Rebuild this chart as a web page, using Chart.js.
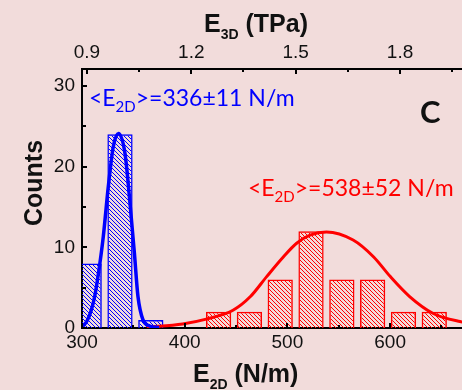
<!DOCTYPE html>
<html>
<head>
<meta charset="utf-8">
<script src="https://cdn.jsdelivr.net/npm/chart.js@4.4.0/dist/chart.umd.min.js"></script>
<style>
  html, body { margin: 0; padding: 0; background: #f2dcdb; }
  #wrap { width: 462px; height: 390px; }
</style>
</head>
<body>
<div id="wrap"><canvas id="hist" width="462" height="390"></canvas></div>
<script>
// histogram bins (bin centre, N/m) and counts
var blueCenters = [307, 337, 367];
var blueCounts = [8, 24, 1];
var redCenters = [433, 463, 493, 523, 553, 583, 613, 643];
var redCounts = [2, 2, 6, 12, 6, 6, 2, 2];

// gaussian fits, points
var blueFitX = [300, 305, 309, 312.5, 315.6, 320.7, 325.6, 330.5, 335.5, 341.9, 346.7, 351, 354.5, 359.4, 366, 375];
var blueFitY = [0.1, 0.9, 2.2, 4.0, 6.4, 11.3, 17.5, 22.5, 24.1, 21.6, 15.5, 9.3, 3.9, 1.0, 0.25, 0.05];
var redFitX = [363, 398, 421, 447, 464, 480, 496, 509, 522, 538, 564, 584, 600, 619, 642, 668, 690];
var redFitY = [0.1, 0.5, 1.1, 2.2, 3.9, 6.4, 8.8, 10.5, 11.5, 11.9, 10.9, 8.8, 6.4, 3.9, 1.8, 0.8, 0.4];

// axis ticks
var bottomTicks = [300, 400, 500, 600];
var bottomMinor = [350, 450, 550, 650];
var leftTicks = [0, 10, 20, 30];
var leftMinor = [5, 15, 25];
var topTicks = [0.9, 1.2, 1.5, 1.8];
var topMinor = [1.05, 1.35, 1.65, 1.95];

var xMin = 300, xMax = 670;
var e3dFactor = 338.7; // E2D (N/m) per E3D (TPa)

var blue = '#0000ff';
var red = '#ff0000';
var tickFont = { family: 'Liberation Sans, Arial, sans-serif', size: 19 };

function hatch(color) {
  var c = document.createElement('canvas');
  c.width = 4; c.height = 4;
  var g = c.getContext('2d');
  g.strokeStyle = color;
  g.lineWidth = 1;
  g.beginPath();
  g.moveTo(-1, -1); g.lineTo(5, 5);
  g.moveTo(-1, 3); g.lineTo(1, 5);
  g.moveTo(3, -1); g.lineTo(5, 1);
  g.stroke();
  return g.createPattern(c, 'repeat');
}

function pairs(xs, ys) {
  return xs.map(function (x, i) { return { x: x, y: ys[i] }; });
}

// inward tick marks on all three axes
var inwardTicks = {
  id: 'inwardTicks',
  afterDraw: function (chart) {
    var ctx = chart.ctx, a = chart.chartArea;
    var sx = chart.scales.x, sy = chart.scales.y, st = chart.scales.x2;
    ctx.save();
    ctx.strokeStyle = '#000';
    ctx.lineWidth = 2;
    function seg(x1, y1, x2, y2) {
      ctx.beginPath(); ctx.moveTo(x1, y1); ctx.lineTo(x2, y2); ctx.stroke();
    }
    bottomTicks.forEach(function (v) { var p = Math.round(sx.getPixelForValue(v)); seg(p, a.bottom, p, a.bottom - 5); });
    bottomMinor.forEach(function (v) { var p = Math.round(sx.getPixelForValue(v)); seg(p, a.bottom, p, a.bottom - 3); });
    topTicks.forEach(function (v) { var p = Math.round(st.getPixelForValue(v)); seg(p, a.top, p, a.top + 5); });
    topMinor.forEach(function (v) { var p = Math.round(st.getPixelForValue(v)); seg(p, a.top, p, a.top + 3); });
    leftTicks.forEach(function (v) { var p = Math.round(sy.getPixelForValue(v)); seg(a.left, p, a.left + 5, p); });
    leftMinor.forEach(function (v) { var p = Math.round(sy.getPixelForValue(v)); seg(a.left, p, a.left + 4, p); });
    ctx.restore();
  }
};

// text runs with subscripts
function runs(ctx, x, y, parts) {
  parts.forEach(function (p) {
    ctx.font = p.font;
    ctx.fillText(p.t, x, y + (p.dy || 0));
    x += ctx.measureText(p.t).width;
  });
}

var labels = {
  id: 'labels',
  afterDraw: function (chart) {
    var ctx = chart.ctx;
    ctx.save();
    ctx.textBaseline = 'alphabetic';
    ctx.textAlign = 'left';
    ctx.fillStyle = '#111';
    var bold = 'bold 25px "Liberation Sans", Arial, sans-serif';
    var boldSub = 'bold 14px "Liberation Sans", Arial, sans-serif';
    runs(ctx, 193, 382, [{ t: 'E', font: bold }, { t: '2D', font: boldSub, dy: 7 }, { t: ' (N/m)', font: bold }]);
    runs(ctx, 204, 32, [{ t: 'E', font: bold }, { t: '3D', font: boldSub, dy: 7 }, { t: ' (TPa)', font: bold }]);

    ctx.save();
    ctx.translate(42, 183);
    ctx.rotate(-Math.PI / 2);
    ctx.textAlign = 'center';
    ctx.font = bold;
    ctx.fillText('Counts', 0, 0);
    ctx.restore();

    var ann = '23px Lato, "Open Sans", sans-serif';
    var annSub = '15px Lato, "Open Sans", sans-serif';
    ctx.fillStyle = blue;
    runs(ctx, 89, 106, [{ t: '<E', font: ann }, { t: '2D', font: annSub, dy: 6 }, { t: '>=336\u00b111 N/m', font: ann }]);
    ctx.fillStyle = red;
    runs(ctx, 248, 196, [{ t: '<E', font: ann }, { t: '2D', font: annSub, dy: 6 }, { t: '>=538\u00b152 N/m', font: ann }]);

    ctx.fillStyle = '#111';
    ctx.font = 'bold 31px Lato, "Open Sans", sans-serif';
    ctx.fillText('C', 420, 123);
    ctx.restore();
  }
};

new Chart(document.getElementById('hist'), {
  data: {
    datasets: [
      {
        type: 'line',
        data: pairs(blueFitX, blueFitY),
        borderColor: blue,
        borderWidth: 3.5,
        pointRadius: 0,
        cubicInterpolationMode: 'monotone',
        order: 0,
      },
      {
        type: 'line',
        data: pairs(redFitX, redFitY),
        borderColor: red,
        borderWidth: 3,
        pointRadius: 0,
        cubicInterpolationMode: 'monotone',
        order: 0,
      },
      {
        type: 'bar',
        data: pairs(blueCenters, blueCounts),
        backgroundColor: hatch(blue),
        borderColor: blue,
        borderWidth: 1.5,
        grouped: false,
        categoryPercentage: 1,
        barPercentage: 0.82,
        order: 1,
      },
      {
        type: 'bar',
        data: pairs(redCenters, redCounts),
        backgroundColor: hatch(red),
        borderColor: red,
        borderWidth: 1.5,
        grouped: false,
        categoryPercentage: 1,
        barPercentage: 0.82,
        order: 1,
      },
    ],
  },
  options: {
    responsive: false,
    animation: false,
    layout: { padding: 0 },
    plugins: {
      legend: { display: false },
      tooltip: { enabled: false },
    },
    scales: {
      x: {
        type: 'linear',
        position: 'bottom',
        min: xMin,
        max: xMax,
        offset: false,
        grid: { display: false, drawTicks: false, offset: false },
        border: { display: true, color: '#000', width: 2 },
        afterBuildTicks: function (s) { s.ticks = bottomTicks.map(function (v) { return { value: v }; }); },
        afterFit: function (s) { s.height = 62; },
        ticks: { color: '#111', font: tickFont, padding: 3, maxRotation: 0 },
      },
      x2: {
        type: 'linear',
        position: 'top',
        min: xMin / e3dFactor,
        max: xMax / e3dFactor,
        offset: false,
        grid: { display: false, drawTicks: false, offset: false },
        border: { display: true, color: '#000', width: 2 },
        afterBuildTicks: function (s) { s.ticks = topTicks.map(function (v) { return { value: v }; }); },
        afterFit: function (s) { s.height = 69; },
        ticks: { color: '#111', font: tickFont, padding: 5, maxRotation: 0,
          callback: function (v) { return v.toFixed(1); } },
      },
      y: {
        type: 'linear',
        position: 'left',
        min: 0,
        max: 32.1,
        grid: { display: false, drawTicks: false },
        border: { display: true, color: '#000', width: 2 },
        afterBuildTicks: function (s) { s.ticks = leftTicks.map(function (v) { return { value: v }; }); },
        afterFit: function (s) { s.width = 82; },
        ticks: { color: '#111', font: tickFont, padding: 7 },
      },
    },
  },
  plugins: [inwardTicks, labels],
});
</script>
</body>
</html>
